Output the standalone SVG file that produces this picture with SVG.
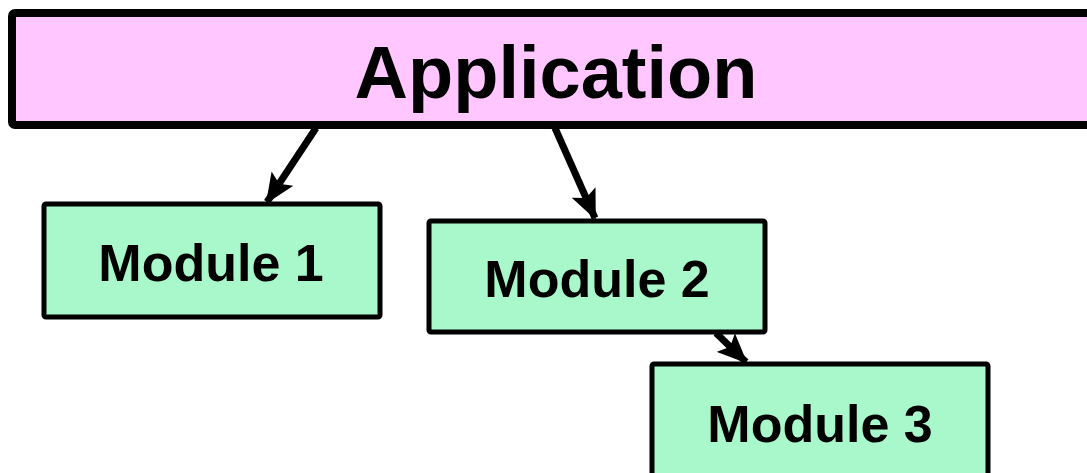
<svg xmlns="http://www.w3.org/2000/svg" width="1087" height="473" viewBox="0 0 1087 473">
  <style>
    .app { fill: #FFC6FF; stroke: #000; stroke-width: 8; }
    .mod { fill: #A8F8CB; stroke: #000; stroke-width: 5; }
    .lbl { font-family: "Liberation Sans", Arial, sans-serif; font-weight: bold; fill: #000; text-anchor: middle; }
    .edge { stroke: #000; stroke-width: 7; fill: none; marker-end: url(#head); }
  </style>
  <defs>
    <marker id="head" markerUnits="userSpaceOnUse" markerWidth="30" markerHeight="26" viewBox="0 0 30 26" refX="28" refY="13" orient="auto">
      <path d="M0,0 L30,13 L0,26 L6,13 Z" fill="#000"/>
    </marker>
  </defs>
  <rect width="1087" height="473" fill="#fff"/>

  <g id="connectors">
    <line class="edge" x1="316" y1="128" x2="267" y2="202"/>
    <line class="edge" x1="555" y1="128" x2="595" y2="218"/>
    <line class="edge" x1="716" y1="333" x2="746" y2="362"/>
  </g>

  <g id="application">
    <rect class="app" x="12" y="13" width="1100" height="112" rx="3"/>
    <text class="lbl" x="556" y="98" font-size="74">Application</text>
  </g>

  <g id="module1">
    <rect class="mod" x="44" y="204" width="336" height="113" rx="2"/>
    <text class="lbl" x="211" y="281" font-size="52">Module 1</text>
  </g>

  <g id="module2">
    <rect class="mod" x="429" y="221" width="336" height="111" rx="2"/>
    <text class="lbl" x="597" y="297" font-size="52">Module 2</text>
  </g>

  <g id="module3">
    <rect class="mod" x="652" y="364" width="336" height="130" rx="2"/>
    <text class="lbl" x="820" y="442" font-size="52">Module 3</text>
  </g>
</svg>
